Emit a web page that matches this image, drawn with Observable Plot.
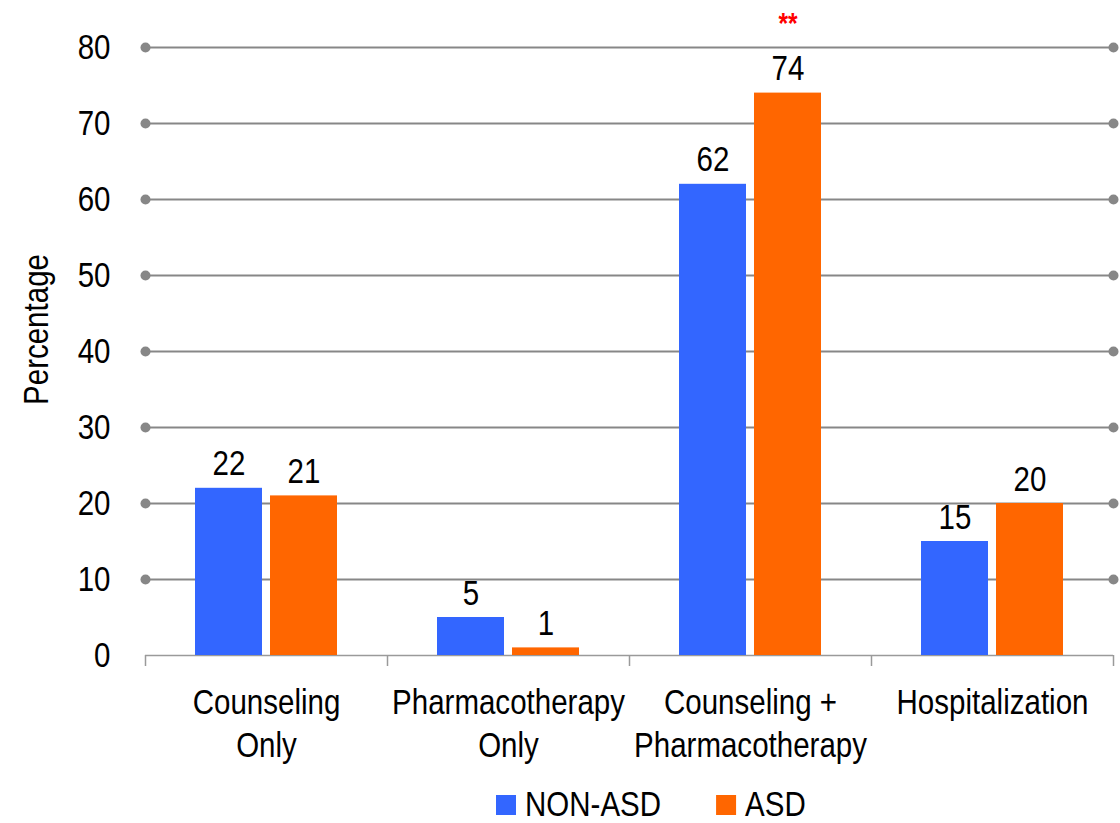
<!DOCTYPE html>
<html>
<head>
<meta charset="utf-8">
<script src="https://cdn.jsdelivr.net/npm/d3@7"></script>
<script src="https://cdn.jsdelivr.net/npm/@observablehq/plot@0.6"></script>
<style>
  html, body { margin: 0; padding: 0; background: #fff; }
  body { width: 1120px; }
  svg { display: block; overflow: visible; }
</style>
</head>
<body>
<div id="chart"></div>
<div id="legend"></div>
<script>
const categories = ["Counseling\nOnly", "Pharmacotherapy\nOnly", "Counseling +\nPharmacotherapy", "Hospitalization"];
const groups = ["NON-ASD", "ASD"];
const nonAsd = [22, 5, 62, 15];
const asd = [21, 1, 74, 20];
const significance = ["", "", "**", ""];
const yTicks = [0, 10, 20, 30, 40, 50, 60, 70, 80];
const colors = ["#3366FF", "#FF6600"];

const data = [];
categories.forEach((c, i) => {
  data.push({category: c, group: groups[0], value: nonAsd[i]});
  data.push({category: c, group: groups[1], value: asd[i]});
});
const sig = categories.map((c, i) => ({category: c, value: asd[i], mark: significance[i]})).filter(d => d.mark);

const marginLeft = 145, marginRight = 7;
const step = (1120 - marginLeft - marginRight) / categories.length;
const font = "'Liberation Sans', Arial, sans-serif";
const NARROW = 0.82;

// Emulate a narrow face (Arial Narrow) by horizontally condensing glyphs about each text's anchor
function condense(root, f) {
  root.querySelectorAll("text").forEach(t => {
    const tr = t.getAttribute("transform");
    if (tr) {
      t.setAttribute("transform", tr + ` scale(${f},1)`);
    } else {
      const tspans = t.querySelectorAll("tspan");
      const targets = tspans.length ? Array.from(tspans) : [t];
      targets.forEach(el => {
        const L = el.getComputedTextLength();
        if (L > 0) {
          el.setAttribute("textLength", L * f);
          el.setAttribute("lengthAdjust", "spacingAndGlyphs");
        }
      });
    }
  });
}

const chart = Plot.plot({
  width: 1120,
  height: 772,
  marginLeft, marginRight,
  marginTop: 47,
  marginBottom: 117,
  style: {fontFamily: font, fontSize: "36px", color: "#000", background: "#fff", overflow: "visible"},
  x: {domain: categories, padding: 0, label: null},
  y: {domain: [0, 80], ticks: yTicks, label: null},
  marks: [
    Plot.ruleY(yTicks.filter(d => d > 0), {stroke: "#878787", strokeWidth: 2}),
    Plot.dot(yTicks.filter(d => d > 0), {y: d => d, frameAnchor: "left", r: 5, fill: "#878787", stroke: "none"}),
    Plot.dot(yTicks.filter(d => d > 0), {y: d => d, frameAnchor: "right", r: 5, fill: "#878787", stroke: "none"}),
    Plot.ruleY([0], {stroke: "#9a9a9a", strokeWidth: 1.5}),
    Plot.ruleX(categories, {x: d => d, y1: 0, y2: 0, insetBottom: -11, dx: -step / 2, stroke: "#9a9a9a", strokeWidth: 1.5}),
    Plot.ruleX(categories.slice(-1), {x: d => d, y1: 0, y2: 0, insetBottom: -11, dx: step / 2, stroke: "#9a9a9a", strokeWidth: 1.5}),
    Plot.barY(data.filter(d => d.group === groups[0]), {x: "category", y: "value", fill: colors[0], insetLeft: 50, insetRight: 125}),
    Plot.barY(data.filter(d => d.group === groups[1]), {x: "category", y: "value", fill: colors[1], insetLeft: 125, insetRight: 50}),
    Plot.text(data.filter(d => d.group === groups[0]), {x: "category", y: "value", text: d => String(d.value), dx: -37.5, dy: -13, lineAnchor: "bottom", fontSize: 36, fill: "#000"}),
    Plot.text(data.filter(d => d.group === groups[1]), {x: "category", y: "value", text: d => String(d.value), dx: 37.5, dy: -13, lineAnchor: "bottom", fontSize: 36, fill: "#000"}),
    Plot.text(sig, {x: "category", y: "value", text: "mark", dx: 37.5, dy: -60, lineAnchor: "bottom", fontSize: 30, fontWeight: "bold", fill: "#FF0000"}),
    Plot.axisY({ticks: yTicks, tickSize: 0, tickPadding: 35, fontSize: 36, label: null}),
    Plot.axisX({tickSize: 0, tickPadding: 29, fontSize: 36, lineHeight: 1.17, label: null}),
    Plot.text(["Percentage"], {frameAnchor: "left", textAnchor: "middle", dx: -109, dy: -22, rotate: -90, fontSize: 36, fill: "#000"})
  ]
});
document.getElementById("chart").appendChild(chart);
condense(chart, NARROW);

// Legend below the chart
const lg = d3.select("#legend").append("svg").attr("width", 1120).attr("height", 51)
  .style("font-family", font).style("font-size", "36px");
let xPos = 496;
groups.forEach((g, i) => {
  lg.append("rect").attr("x", xPos).attr("y", 23).attr("width", 20).attr("height", 20).attr("fill", colors[i]);
  const t = lg.append("text").attr("transform", `translate(${xPos + 29},44) scale(${NARROW},1)`).attr("fill", "#000").text(g);
  const L = t.node().getComputedTextLength() * NARROW;
  xPos += 29 + L + 55;
});
</script>
</body>
</html>
